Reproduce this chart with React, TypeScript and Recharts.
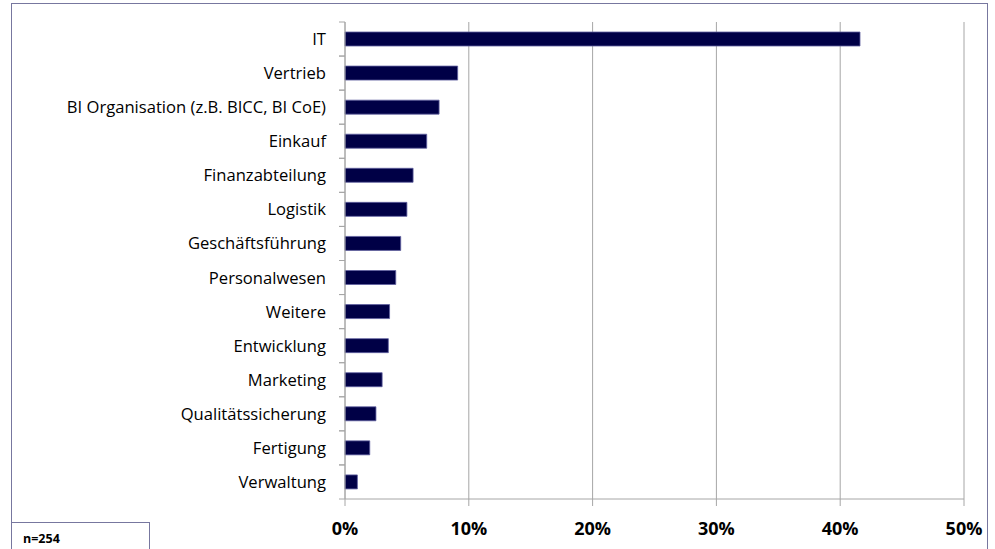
import React from "react";
import { BarChart, Bar, XAxis, YAxis, CartesianGrid } from "recharts";

const categories = [
  "IT",
  "Vertrieb",
  "BI Organisation (z.B. BICC, BI CoE)",
  "Einkauf",
  "Finanzabteilung",
  "Logistik",
  "Geschäftsführung",
  "Personalwesen",
  "Weitere ",
  "Entwicklung",
  "Marketing",
  "Qualitätssicherung",
  "Fertigung",
  "Verwaltung",
];
const shares = [41.6, 9.1, 7.6, 6.6, 5.5, 5.0, 4.5, 4.1, 3.6, 3.5, 3.0, 2.5, 2.0, 1.0];
const xTicks = [0, 10, 20, 30, 40, 50];
const sampleNote = "n=254";

const data = categories.map((c, i) => ({ name: c, value: shares[i] }));

const W = 995;
const H = 549;
const TOP = 22;
const BOTTOM = 499;
const LEFT = 345;
const RIGHT = 964;
const BAND = (BOTTOM - TOP) / categories.length;
const FONT = "'Open Sans', 'Noto Sans', sans-serif";
const GRID = "#a6a6a6";

const YTick = (props: any) => {
  const { y, payload } = props;
  return (
    <g>
      <line x1={LEFT - 6} x2={LEFT} y1={y - BAND / 2} y2={y - BAND / 2} stroke={GRID} strokeWidth={1} />
      <line x1={LEFT - 6} x2={LEFT} y1={y + BAND / 2} y2={y + BAND / 2} stroke={GRID} strokeWidth={1} />
      <text x={LEFT - 19} y={y} dy="0.36em" textAnchor="end" fontSize={16.6} fill="#000" fontFamily={FONT}>
        {payload.value}
      </text>
    </g>
  );
};

export default function App() {
  return (
    <div style={{ position: "absolute", left: 0, top: 0, width: W, height: H, background: "#fff", overflow: "hidden" }}>
      <div
        style={{
          position: "absolute",
          left: 11,
          top: 3,
          width: 977,
          height: 560,
          border: "1.5px solid #77779f",
          boxSizing: "border-box",
        }}
      />
      <div style={{ position: "absolute", left: 0, top: 0 }}>
        <BarChart
          width={W}
          height={H}
          data={data}
          layout="vertical"
          margin={{ top: TOP, right: W - RIGHT, bottom: H - BOTTOM - 30, left: 10 }}
          barSize={14}
        >
          <CartesianGrid horizontal={false} vertical={true} stroke={GRID} strokeWidth={1} />
          <XAxis
            type="number"
            domain={[0, 50]}
            ticks={xTicks}
            interval={0}
            height={30}
            axisLine={{ stroke: GRID }}
            tickLine={{ stroke: GRID }}
            tickSize={7}
            tickMargin={16}
            tickFormatter={(v: number) => `${v}%`}
            tick={{ fontSize: 18, fontWeight: 700, fill: "#000", fontFamily: FONT }}
          />
          <YAxis
            type="category"
            dataKey="name"
            width={LEFT - 10}
            axisLine={{ stroke: GRID }}
            tickLine={false}
            interval={0}
            tick={<YTick />}
          />
          <Bar dataKey="value" fill="#000046" stroke="#6060a0" strokeWidth={0.8} isAnimationActive={false} />
        </BarChart>
      </div>
      <div
        style={{
          position: "absolute",
          left: 11,
          top: 522,
          width: 139,
          height: 40,
          border: "1.5px solid #77779f",
          boxSizing: "border-box",
          background: "#fff",
        }}
      />
      <div
        style={{
          position: "absolute",
          left: 23,
          top: 530,
          fontFamily: FONT,
          fontSize: 12.5,
          fontWeight: 700,
          color: "#000",
        }}
      >
        {sampleNote}
      </div>
    </div>
  );
}
